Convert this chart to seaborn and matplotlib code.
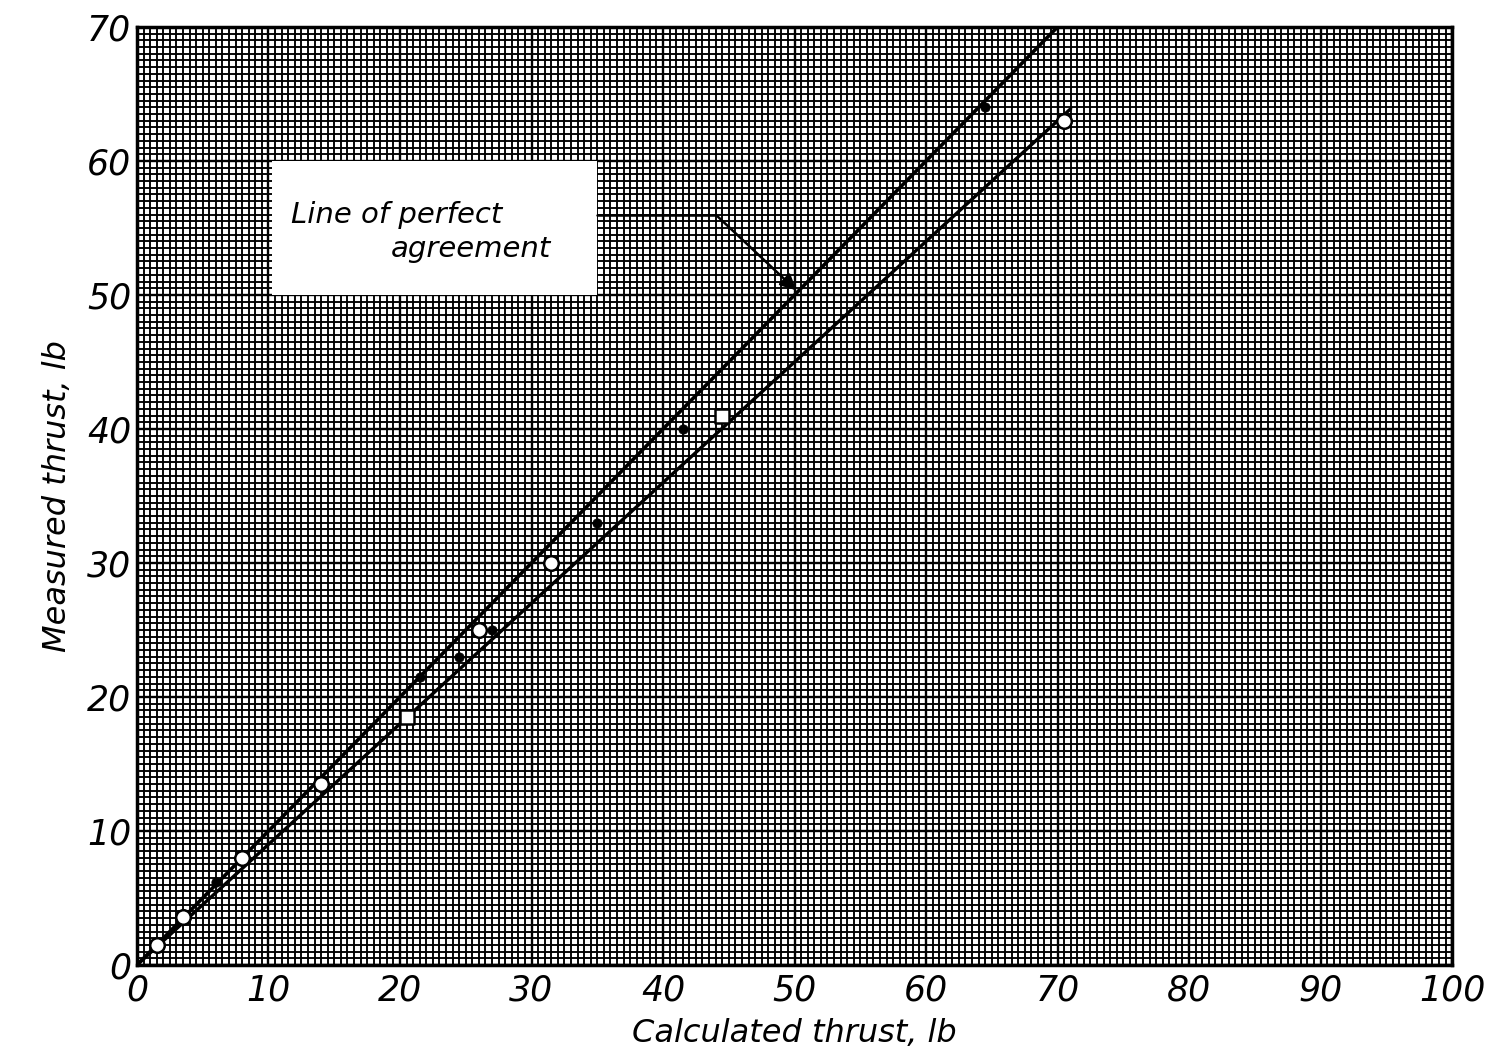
import numpy as np
import pandas as pd
import matplotlib
matplotlib.use("Agg")
import matplotlib.pyplot as plt
import seaborn as sns

# ---- data ----
perfect_x = [0, 70]
perfect_y = [0, 70]
fit_x = [0, 71]
fit_y = [0, 63.9]

open_calc = [1.5, 3.5, 8.0, 14.0, 26.0, 31.5, 70.5]
open_meas = [1.5, 3.6, 8.0, 13.5, 25.0, 30.0, 63.0]
square_calc = [20.5, 44.5]
square_meas = [18.5, 41.0]
filled_calc = [6.0, 21.5, 24.5, 27.0, 35.0, 41.5, 64.5]
filled_meas = [6.2, 21.5, 23.0, 25.0, 33.0, 40.0, 64.0]

x_ticks = [0, 10, 20, 30, 40, 50, 60, 70, 80, 90, 100]
y_ticks = [0, 10, 20, 30, 40, 50, 60, 70]

sns.set_theme(style="white")
plt.rcParams['font.family'] = ['DejaVu Sans']
plt.rcParams['text.color'] = 'black'
plt.rcParams['axes.labelcolor'] = 'black'
plt.rcParams['xtick.color'] = 'black'
plt.rcParams['ytick.color'] = 'black'

fig = plt.figure(figsize=(14.97, 10.58), dpi=100)
ax = fig.add_axes([0.0915, 0.0879, 0.8785, 0.8866])
ax.set_xlim(0, 100)
ax.set_ylim(0, 70)
ax.set_facecolor("white")

# graph-paper grid
ax.set_xticks(np.arange(0, 100.01, 0.5), minor=True)
ax.set_yticks(np.arange(0, 70.01, 0.5), minor=True)
ax.grid(which="minor", color="black", linewidth=1.35)
ax.set_xticks(x_ticks)
ax.set_yticks(y_ticks)
ax.grid(which="major", color="black", linewidth=1.7)
ax.tick_params(which="both", length=0)
ax.set_axisbelow(True)
for s in ax.spines.values():
    s.set_color("black")
    s.set_linewidth(2.5)

ax.set_xticklabels([str(t) for t in x_ticks], fontsize=25, style="italic")
ax.set_yticklabels([str(t) for t in y_ticks], fontsize=25, style="italic")
ax.tick_params(axis="x", pad=6)
ax.tick_params(axis="y", pad=4)

sns.lineplot(x=perfect_x, y=perfect_y, ax=ax, color="black", linewidth=2.6, zorder=3)
sns.lineplot(x=fit_x, y=fit_y, ax=ax, color="black", linewidth=2.4, zorder=3)

sns.scatterplot(x=open_calc, y=open_meas, ax=ax, marker="o", s=110,
                facecolor="white", edgecolor="black", linewidth=1.8, zorder=4)
sns.scatterplot(x=square_calc, y=square_meas, ax=ax, marker="s", s=110,
                facecolor="white", edgecolor="black", linewidth=1.8, zorder=4)
sns.scatterplot(x=filled_calc, y=filled_meas, ax=ax, marker="o", s=45,
                color="black", edgecolor="black", zorder=4)

# annotation box
ax.add_patch(plt.Rectangle((10.3, 50.0), 24.7, 10.0, facecolor="white",
                           edgecolor="none", zorder=5))
ax.text(11.7, 56.0, "Line of perfect", fontsize=21, style="italic",
        ha="left", va="center", zorder=6)
ax.text(31.5, 53.4, "agreement", fontsize=21, style="italic",
        ha="right", va="center", zorder=6)
ax.plot([35.0, 44.0], [56.0, 56.0], color="black", linewidth=1.8, zorder=6)
ax.annotate("", xy=(50.3, 50.2), xytext=(44.0, 56.0),
            arrowprops=dict(arrowstyle="-|>", color="black", lw=1.8,
                            mutation_scale=24), zorder=6)

ax.set_xlabel("Calculated thrust, lb", fontsize=23, style="italic", labelpad=8)
ax.set_ylabel("Measured thrust, lb", fontsize=23, style="italic", labelpad=10)

fig.savefig("out.png", dpi=100)
